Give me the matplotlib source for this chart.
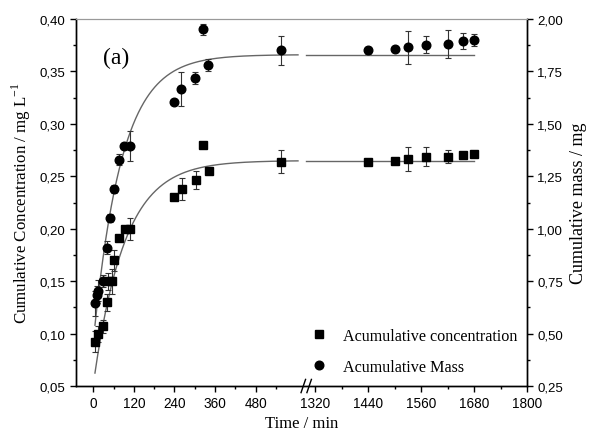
import numpy as np
import matplotlib
matplotlib.use("Agg")
import matplotlib.pyplot as plt
from matplotlib.lines import Line2D
from matplotlib.ticker import FixedLocator, MultipleLocator, FuncFormatter

# measured points (time in min)
t_conc = [5, 15, 30, 40, 45, 55, 60, 75, 95, 110, 240, 263, 303, 325, 343,
          555, 1440, 1500, 1530, 1570, 1620, 1655, 1680]
conc = [0.0923, 0.0996, 0.107, 0.130, 0.150, 0.150, 0.170, 0.191, 0.200, 0.200,
        0.230, 0.238, 0.2467, 0.2798, 0.2548,
        0.2639, 0.2639, 0.2643, 0.2665, 0.2687, 0.2687, 0.2706, 0.2713]
conc_err = [0.010, 0.008, 0.006, 0.008, 0.008, 0.012, 0.010, 0.0, 0.0, 0.0107,
            0.0, 0.0108, 0.0087, 0.0, 0.0,
            0.011, 0.002, 0.002, 0.0111, 0.0092, 0.006, 0.002, 0.002]

t_mass = [5, 10, 15, 30, 40, 50, 60, 75, 90, 110, 240, 260, 300, 325, 340,
          555, 1440, 1500, 1530, 1570, 1620, 1655, 1680]
mass = [0.645, 0.685, 0.705, 0.75, 0.91, 1.05, 1.19, 1.33, 1.395, 1.395,
        1.605, 1.665, 1.72, 1.95, 1.78,
        1.85, 1.85, 1.855, 1.865, 1.878, 1.88, 1.894, 1.90]
mass_err = [0.06, 0.04, 0.05, 0.03, 0.03, 0.02, 0.02, 0.025, 0.0, 0.07,
            0.0, 0.08, 0.028, 0.024, 0.028,
            0.068, 0.015, 0.013, 0.078, 0.039, 0.068, 0.039, 0.028]

# exponential fits  y = plateau - amp*exp(-k t)
conc_fit = (0.265, 0.214, 0.0109)
mass_fit = (1.83, 1.37, 0.012)

# broken time axis
B1, B2, R = 626.0, 1297.0, 1.3036


def fwd(t):
    t = np.asarray(t, float)
    return np.where(t <= B1, t, np.where(t >= B2, B1 + (t - B2) * R, B1))


def inv(s):
    s = np.asarray(s, float)
    return np.where(s <= B1, s, B2 + (s - B1) / R)


comma = FuncFormatter(lambda v, p: f"{v:.2f}".replace(".", ","))

plt.rcParams["mathtext.fontset"] = "custom"
plt.rcParams["mathtext.rm"] = "Liberation Serif"

fig = plt.figure(figsize=(5.91, 4.35), dpi=100)
ax = fig.add_axes([0.1286, 0.1103, 0.7631, 0.8437])
ax.set_xscale("function", functions=(fwd, inv))
ax2 = ax.twinx()

ecol = "#333333"
fcol = "#666666"

for seg in [(5, 605), (1300, 1680)]:
    tt = np.linspace(seg[0], seg[1], 300)
    p, a, k = conc_fit
    ax.plot(tt, p - a * np.exp(-k * tt), color=fcol, lw=1.0)
    p, a, k = mass_fit
    ax2.plot(tt, p - a * np.exp(-k * tt), color=fcol, lw=1.0)

ax.errorbar(t_conc, conc, yerr=conc_err, fmt="s", ms=5.5, color="k",
            ecolor=ecol, elinewidth=0.8, capsize=2.4, capthick=0.8)
ax2.errorbar(t_mass, mass, yerr=mass_err, fmt="o", ms=6.2, color="k",
             ecolor=ecol, elinewidth=0.8, capsize=2.4, capthick=0.8)

ax.set_xlim(-51, 1800)
ax.set_ylim(0.05, 0.40)
ax2.set_ylim(0.25, 2.0)

ax.xaxis.set_major_locator(FixedLocator([0, 120, 240, 360, 480, 1320, 1440, 1560, 1680, 1800]))
ax.xaxis.set_minor_locator(FixedLocator([60, 180, 300, 420, 540, 1380, 1500, 1620, 1740]))
ax.xaxis.set_major_formatter(FuncFormatter(lambda v, p: f"{v:.0f}"))
ax.yaxis.set_major_locator(MultipleLocator(0.05))
ax.yaxis.set_minor_locator(MultipleLocator(0.025))
ax.yaxis.set_major_formatter(comma)
ax2.yaxis.set_major_locator(MultipleLocator(0.25))
ax2.yaxis.set_minor_locator(MultipleLocator(0.125))
ax2.yaxis.set_major_formatter(comma)

for a_ in (ax, ax2):
    a_.tick_params(which="major", direction="out", length=4, width=1,
                   labelsize=9.5, labelfontfamily="Liberation Sans")
    a_.tick_params(which="minor", direction="out", length=2.2, width=1)
    for s in a_.spines.values():
        s.set_linewidth(1.0)
    a_.spines["top"].set_color("#999999")
    a_.spines["top"].set_linewidth(0.8)
ax.tick_params(axis="x", labelsize=9.8)

ax.set_xlabel("Time / min", family="Liberation Serif", fontsize=12, labelpad=3)
ax.set_ylabel(r"Cumulative Concentration / mg L$^{\mathregular{-1}}$",
              family="Liberation Serif", fontsize=12.2, labelpad=5)
ax2.set_ylabel("Cumulative mass / mg", family="Liberation Serif", fontsize=13,
               labelpad=5)

ax.text(0.06, 0.88, "(a)", transform=ax.transAxes, family="Liberation Serif",
        fontsize=17)

# axis break marks
xb = ax.transAxes.inverted().transform(ax.transData.transform([[B1, 0.1]]))[0, 0]
for dx in (-0.009, 0.004):
    ax.plot([xb + dx, xb + dx + 0.01], [-0.018, 0.018], transform=ax.transAxes,
            color="k", lw=1.0, clip_on=False)

handles = [Line2D([], [], marker="s", ls="none", color="k", ms=5.5),
           Line2D([], [], marker="o", ls="none", color="k", ms=6.2)]
ax2.legend(handles, ["Acumulative concentration", "Acumulative Mass"],
           loc="lower right", bbox_to_anchor=(1.0, 0.005), frameon=False,
           prop={"family": "Liberation Serif", "size": 11.6},
           handlelength=1.0, handletextpad=1.0, labelspacing=0.9,
           borderaxespad=0.2)

fig.savefig("out.png", dpi=100)
